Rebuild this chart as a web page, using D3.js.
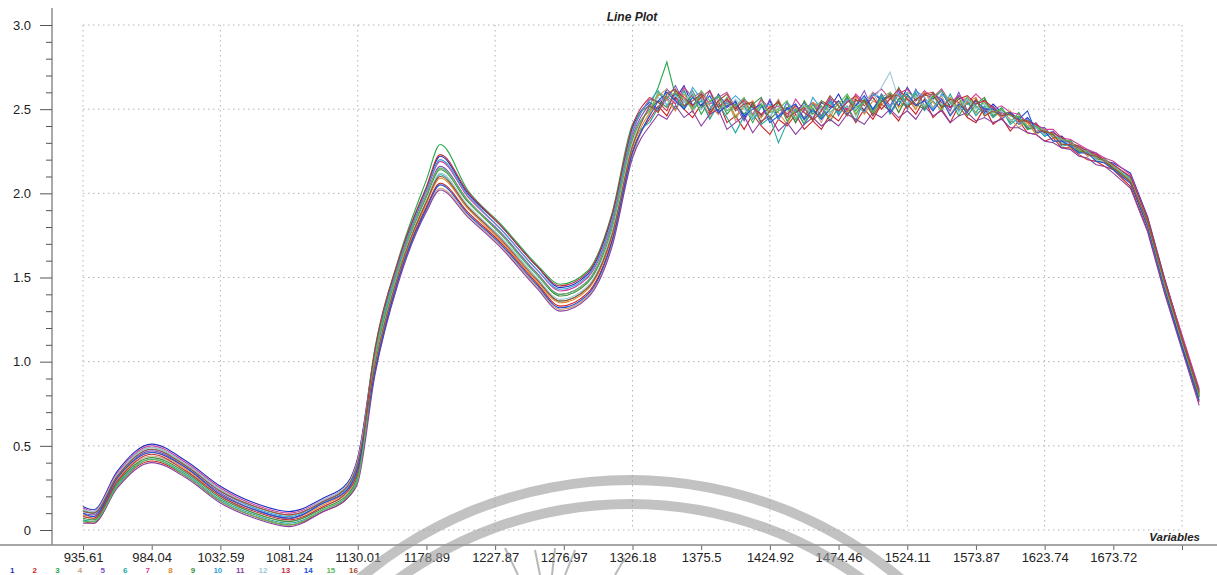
<!DOCTYPE html>
<html>
<head>
<meta charset="utf-8">
<script src="https://cdn.jsdelivr.net/npm/d3@7"></script>
<style>
  html, body { margin: 0; padding: 0; background: #fff; }
  svg { display: block; font-family: 'Liberation Sans', Arial, sans-serif; }
</style>
</head>
<body>
<div id="chart"></div>
<script>
// Rótulos do eixo X (comprimento de onda por variável)
const tickLabels = ['935.61', '984.04', '1032.59', '1081.24', '1130.01', '1178.89', '1227.87', '1276.97',
  '1326.18', '1375.5', '1424.92', '1474.46', '1524.11', '1573.87', '1623.74', '1673.72'];
const yMajor = [0, 0.5, 1.0, 1.5, 2.0, 2.5, 3.0];

// Posição das amostras, em unidades de tick do eixo X
const pos = [0, 0.15, 0.5, 1, 1.5, 2, 2.5, 3, 3.5, 3.85, 4,
  4.25, 4.6, 5, 5.2, 5.6, 6.1, 6.6, 6.95, 7.35, 7.7, 8,
  8.25, 8.375, 8.5, 8.625, 8.75, 8.875, 9, 9.125, 9.25, 9.375,
  9.5, 9.625, 9.75, 9.875, 10, 10.125, 10.25, 10.375, 10.5, 10.625,
  10.75, 10.875, 11, 11.125, 11.25, 11.375, 11.5, 11.625, 11.75, 11.875,
  12, 12.125, 12.25, 12.375, 12.5, 12.625, 12.75, 12.875, 13, 13.125,
  13.25, 13.375, 13.5, 13.625, 13.75, 13.875, 14, 14.125, 14.25, 14.375,
  14.5, 14.625, 14.75, 14.875, 15,
  15.25, 15.5, 15.75, 16, 16.25];

// Espectros: trecho suave, platô ruidoso, queda final
const spectra = [
  [0.14,0.12,0.35,0.51,0.41,0.26,0.16,0.11,0.19,0.28,0.43, 1.06,1.61,2.03,2.22,2.00,1.80,1.57,1.44,1.52,1.86,2.39,
   2.54,2.50,2.62,2.56,2.64,2.52,2.59,2.49,2.59,2.51, 2.55,2.44,2.54,2.46,2.55,2.44,2.51,2.48,2.54,2.44,
   2.54,2.51,2.59,2.49,2.56,2.49,2.60,2.55,2.59,2.52, 2.63,2.55,2.59,2.56,2.61,2.51,2.58,2.53,2.55,2.48,
   2.53,2.48,2.48,2.41,2.45,2.39,2.39,2.33,2.34,2.29, 2.28,2.25,2.24,2.19,2.18, 2.12,1.86,1.49,1.15,0.83],
  [0.05,0.04,0.26,0.41,0.32,0.17,0.08,0.03,0.11,0.19,0.30, 0.95,1.51,1.92,2.06,1.89,1.70,1.47,1.33,1.41,1.72,2.25,
   2.44,2.52,2.46,2.57,2.50,2.45,2.53,2.47,2.55,2.42, 2.46,2.38,2.47,2.40,2.35,2.44,2.40,2.47,2.38,2.43,
   2.38,2.47,2.43,2.51,2.42,2.50,2.44,2.53,2.49,2.43, 2.53,2.47,2.56,2.45,2.50,2.42,2.52,2.45,2.42,2.51,
   2.41,2.45,2.37,2.43,2.36,2.35,2.31,2.33,2.27,2.27, 2.23,2.20,2.19,2.16,2.14, 2.04,1.78,1.41,1.08,0.76],
  [0.12,0.10,0.33,0.49,0.39,0.24,0.14,0.09,0.17,0.26,0.40, 1.08,1.62,2.08,2.29,2.02,1.81,1.58,1.46,1.54,1.88,2.41,
   2.52,2.63,2.78,2.58,2.51,2.59,2.47,2.55,2.49,2.57, 2.45,2.52,2.42,2.52,2.45,2.54,2.43,2.50,2.41,2.53,
   2.45,2.55,2.48,2.58,2.47,2.55,2.47,2.59,2.50,2.63, 2.52,2.59,2.50,2.60,2.52,2.56,2.46,2.54,2.48,2.56,
   2.46,2.51,2.42,2.48,2.39,2.41,2.34,2.36,2.30,2.32, 2.24,2.26,2.20,2.21,2.14, 2.10,1.84,1.47,1.14,0.81],
  [0.08,0.07,0.29,0.44,0.35,0.20,0.10,0.05,0.14,0.22,0.34, 0.93,1.49,1.90,2.03,1.87,1.68,1.45,1.31,1.39,1.69,2.22,
   2.47,2.58,2.62,2.53,2.62,2.48,2.57,2.45,2.54,2.56, 2.43,2.55,2.45,2.55,2.48,2.56,2.45,2.53,2.43,2.51,
   2.42,2.53,2.49,2.57,2.46,2.54,2.60,2.50,2.57,2.48, 2.57,2.50,2.61,2.51,2.58,2.47,2.54,2.57,2.47,2.51,
   2.45,2.49,2.44,2.39,2.44,2.36,2.37,2.31,2.33,2.27, 2.27,2.22,2.23,2.18,2.14, 2.06,1.80,1.43,1.10,0.78],
  [0.10,0.09,0.31,0.47,0.37,0.22,0.12,0.07,0.16,0.24,0.37, 1.02,1.57,1.99,2.16,1.96,1.76,1.53,1.40,1.48,1.81,2.34,
   2.53,2.49,2.56,2.64,2.54,2.60,2.50,2.61,2.47,2.55, 2.52,2.43,2.53,2.45,2.56,2.45,2.54,2.42,2.50,2.54,
   2.46,2.57,2.46,2.55,2.52,2.61,2.49,2.59,2.52,2.61, 2.50,2.62,2.52,2.59,2.56,2.49,2.60,2.49,2.56,2.49,
   2.52,2.44,2.48,2.44,2.39,2.42,2.35,2.37,2.31,2.31, 2.25,2.26,2.21,2.20,2.17, 2.09,1.83,1.46,1.12,0.80],
  [0.06,0.05,0.27,0.42,0.33,0.18,0.09,0.04,0.12,0.20,0.31, 0.98,1.54,1.95,2.11,1.92,1.73,1.50,1.36,1.44,1.76,2.29,
   2.42,2.51,2.57,2.50,2.61,2.50,2.55,2.44,2.53,2.45, 2.36,2.46,2.52,2.41,2.45,2.30,2.42,2.50,2.41,2.49,
   2.44,2.55,2.47,2.52,2.43,2.56,2.50,2.58,2.47,2.55, 2.51,2.60,2.49,2.55,2.49,2.59,2.49,2.55,2.46,2.52,
   2.45,2.50,2.41,2.45,2.38,2.39,2.34,2.36,2.28,2.29, 2.24,2.25,2.19,2.19,2.15, 2.07,1.81,1.44,1.11,0.79],
  [0.13,0.11,0.34,0.50,0.40,0.25,0.15,0.10,0.18,0.27,0.42, 1.04,1.59,2.01,2.19,1.98,1.78,1.55,1.42,1.50,1.83,2.36,
   2.56,2.54,2.58,2.53,2.63,2.57,2.60,2.53,2.57,2.60, 2.51,2.55,2.47,2.56,2.50,2.52,2.45,2.56,2.49,2.54,
   2.49,2.56,2.54,2.49,2.59,2.54,2.58,2.62,2.56,2.59, 2.62,2.55,2.61,2.57,2.62,2.54,2.58,2.54,2.59,2.54,
   2.50,2.52,2.48,2.47,2.42,2.41,2.38,2.38,2.33,2.32, 2.29,2.26,2.24,2.21,2.19, 2.11,1.85,1.48,1.16,0.84],
  [0.09,0.08,0.30,0.46,0.36,0.21,0.12,0.07,0.15,0.24,0.36, 0.97,1.52,1.94,2.09,1.91,1.71,1.48,1.35,1.43,1.74,2.27,
   2.48,2.59,2.56,2.49,2.59,2.51,2.58,2.52,2.47,2.54, 2.46,2.51,2.55,2.45,2.52,2.48,2.41,2.51,2.45,2.54,
   2.51,2.45,2.55,2.48,2.57,2.47,2.55,2.52,2.60,2.51, 2.56,2.50,2.60,2.54,2.50,2.57,2.50,2.54,2.57,2.46,
   2.49,2.45,2.49,2.41,2.42,2.35,2.38,2.33,2.32,2.27, 2.26,2.23,2.22,2.18,2.16, 2.07,1.81,1.44,1.12,0.80],
  [0.07,0.06,0.28,0.43,0.34,0.19,0.10,0.05,0.13,0.21,0.33, 1.01,1.56,1.98,2.14,1.95,1.75,1.52,1.39,1.47,1.79,2.32,
   2.50,2.55,2.51,2.60,2.50,2.61,2.51,2.54,2.58,2.47, 2.53,2.47,2.53,2.57,2.44,2.49,2.51,2.42,2.55,2.47,
   2.52,2.43,2.51,2.57,2.49,2.56,2.48,2.55,2.58,2.48, 2.58,2.53,2.50,2.58,2.51,2.53,2.57,2.46,2.53,2.57,
   2.46,2.50,2.43,2.46,2.38,2.40,2.35,2.35,2.29,2.31, 2.25,2.25,2.20,2.20,2.15, 2.08,1.82,1.45,1.11,0.79],
  [0.11,0.10,0.32,0.48,0.38,0.23,0.13,0.08,0.17,0.25,0.39, 1.05,1.59,2.02,2.20,1.99,1.78,1.55,1.43,1.51,1.84,2.37,
   2.55,2.61,2.52,2.59,2.51,2.63,2.56,2.50,2.58,2.53, 2.58,2.53,2.44,2.51,2.53,2.44,2.54,2.49,2.44,2.57,
   2.50,2.54,2.48,2.56,2.53,2.48,2.59,2.57,2.51,2.59, 2.53,2.61,2.57,2.50,2.59,2.54,2.49,2.56,2.52,2.47,
   2.51,2.48,2.47,2.41,2.44,2.39,2.34,2.36,2.32,2.28, 2.28,2.24,2.22,2.20,2.16, 2.09,1.84,1.46,1.13,0.82],
  [0.04,0.04,0.25,0.40,0.31,0.16,0.07,0.02,0.11,0.19,0.28, 0.92,1.48,1.89,2.02,1.86,1.67,1.44,1.30,1.38,1.68,2.21,
   2.40,2.47,2.44,2.52,2.45,2.49,2.40,2.47,2.50,2.38, 2.42,2.46,2.36,2.43,2.46,2.37,2.42,2.35,2.41,2.45,
   2.40,2.44,2.40,2.47,2.44,2.41,2.48,2.45,2.50,2.45, 2.49,2.44,2.52,2.46,2.49,2.42,2.46,2.48,2.43,2.45,
   2.42,2.44,2.39,2.39,2.36,2.35,2.31,2.30,2.27,2.26, 2.22,2.21,2.17,2.16,2.12, 2.03,1.77,1.40,1.07,0.74],
  [0.12,0.11,0.33,0.49,0.39,0.24,0.14,0.09,0.18,0.27,0.41, 0.99,1.54,1.96,2.12,1.93,1.73,1.50,1.37,1.45,1.77,2.30,
   2.51,2.57,2.53,2.58,2.54,2.60,2.50,2.54,2.56,2.49, 2.56,2.50,2.45,2.53,2.46,2.51,2.49,2.45,2.53,2.45,
   2.51,2.47,2.54,2.51,2.50,2.57,2.55,2.63,2.72,2.56, 2.53,2.58,2.52,2.59,2.53,2.55,2.48,2.56,2.50,2.53,
   2.47,2.49,2.43,2.45,2.40,2.39,2.35,2.36,2.30,2.30, 2.26,2.25,2.20,2.19,2.17, 2.08,1.83,1.46,1.12,0.81],
  [0.08,0.07,0.29,0.45,0.35,0.20,0.11,0.06,0.14,0.23,0.35, 1.07,1.61,2.04,2.23,2.01,1.80,1.57,1.45,1.53,1.87,2.40,
   2.57,2.54,2.49,2.61,2.57,2.52,2.57,2.61,2.51,2.56, 2.50,2.56,2.51,2.47,2.51,2.54,2.47,2.52,2.48,2.44,
   2.55,2.52,2.49,2.54,2.58,2.52,2.57,2.50,2.56,2.62, 2.56,2.52,2.59,2.60,2.54,2.51,2.56,2.58,2.53,2.55,
   2.51,2.47,2.48,2.44,2.43,2.41,2.36,2.36,2.33,2.30, 2.28,2.25,2.23,2.20,2.17, 2.10,1.85,1.48,1.14,0.82],
  [0.10,0.08,0.31,0.46,0.37,0.21,0.12,0.07,0.16,0.24,0.37, 0.94,1.50,1.91,2.05,1.88,1.69,1.46,1.32,1.40,1.71,2.24,
   2.46,2.55,2.60,2.55,2.50,2.57,2.52,2.58,2.48,2.52, 2.54,2.46,2.50,2.53,2.42,2.46,2.50,2.53,2.44,2.50,
   2.44,2.50,2.55,2.47,2.52,2.58,2.50,2.57,2.48,2.56, 2.59,2.52,2.55,2.49,2.56,2.46,2.53,2.48,2.55,2.50,
   2.50,2.46,2.48,2.44,2.49,2.36,2.37,2.31,2.31,2.28, 2.24,2.24,2.19,2.18,2.14, 2.06,1.80,1.43,1.09,0.77],
  [0.05,0.05,0.26,0.42,0.32,0.17,0.08,0.03,0.12,0.20,0.30, 1.02,1.56,1.99,2.15,1.96,1.75,1.52,1.40,1.48,1.80,2.33,
   2.49,2.60,2.57,2.60,2.56,2.50,2.61,2.55,2.58,2.49, 2.52,2.57,2.46,2.53,2.48,2.50,2.55,2.44,2.52,2.50,
   2.55,2.48,2.53,2.59,2.51,2.54,2.48,2.57,2.60,2.55, 2.60,2.57,2.51,2.57,2.61,2.54,2.51,2.57,2.51,2.54,
   2.48,2.50,2.46,2.45,2.40,2.40,2.37,2.34,2.32,2.31, 2.26,2.25,2.21,2.20,2.16, 2.08,1.82,1.45,1.12,0.80],
  [0.11,0.10,0.32,0.48,0.38,0.23,0.14,0.09,0.17,0.26,0.40, 0.98,1.53,1.95,2.10,1.92,1.72,1.49,1.36,1.44,1.75,2.28,
   2.52,2.48,2.59,2.62,2.52,2.55,2.59,2.48,2.55,2.59, 2.49,2.53,2.54,2.42,2.49,2.55,2.45,2.48,2.51,2.43,
   2.49,2.58,2.52,2.46,2.55,2.55,2.46,2.54,2.58,2.58, 2.51,2.56,2.58,2.59,2.51,2.56,2.54,2.49,2.56,2.46,
   2.49,2.46,2.47,2.43,2.43,2.37,2.37,2.35,2.29,2.29, 2.27,2.23,2.22,2.19,2.15, 2.07,1.83,1.47,1.13,0.81]
];
const seriesNames = ['1', '2', '3', '4', '5', '6', '7', '8', '9', '10', '11', '12', '13', '14', '15', '16'];
const colors = ['#1f2fbf', '#d02020', '#2aa84a', '#c9a27a', '#7c52c8', '#20a8a0', '#d040a0', '#e08a30',
  '#3d8f3d', '#3aa0d8', '#8a3fa0', '#9fc8d8', '#c03040', '#2050d8', '#60b860', '#a05030'];

const width = 1217;
const height = 575;

const svg = d3.select('#chart')
  .append('svg')
  .attr('width', width)
  .attr('height', height);

const x = d3.scaleLinear().domain([0, 16]).range([83, 1182]);
const y = d3.scaleLinear().domain([0, 3]).range([530, 25]);
const axisY = 545;

// Grade pontilhada
const grid = svg.append('g').attr('stroke', '#b4b4b4').attr('stroke-dasharray', '1.5,3.5');
grid.selectAll('line.h')
  .data(yMajor)
  .enter().append('line')
  .attr('x1', x(0)).attr('x2', x(16))
  .attr('y1', d => y(d)).attr('y2', d => y(d));
grid.selectAll('line.v')
  .data(d3.range(0, 17, 2))
  .enter().append('line')
  .attr('x1', d => x(d)).attr('x2', d => x(d))
  .attr('y1', y(3)).attr('y2', y(0));

// Linhas dos espectros: trecho suave com curva, platô com segmentos retos
const smooth = d3.line().x(d => x(d[0])).y(d => y(d[1])).curve(d3.curveMonotoneX);
const jagged = d3.line().x(d => x(d[0])).y(d => y(d[1]));
const lines = svg.append('g').attr('fill', 'none').attr('stroke-width', 1.1);
spectra.forEach((vals, s) => {
  const pts = vals.map((v, i) => [pos[i], v]);
  lines.append('path').attr('d', smooth(pts.slice(0, 23))).attr('stroke', colors[s]);
  lines.append('path').attr('d', jagged(pts.slice(22))).attr('stroke', colors[s]);
});

// Eixo Y (maiores e menores em grupos separados)
const yMinor = svg.append('g').attr('transform', 'translate(52,0)');
yMinor.call(d3.axisLeft(y)
  .tickValues(d3.range(1, 30).filter(d => d % 5 !== 0).map(d => d / 10))
  .tickSize(6).tickFormat(''));
const yAxis = svg.append('g').attr('transform', 'translate(52,0)');
yAxis.call(d3.axisLeft(y).tickValues(yMajor).tickSize(12).tickPadding(9)
  .tickFormat(d => d === 0 ? '0' : d.toFixed(1)));
svg.selectAll('.domain').remove();
yMinor.selectAll('line').attr('stroke', '#555');
yAxis.selectAll('line').attr('stroke', '#555');
yAxis.selectAll('text').attr('font-size', 13).attr('fill', '#222');
svg.append('line').attr('x1', 52).attr('x2', 52).attr('y1', 8).attr('y2', axisY)
  .attr('stroke', '#555');

// Eixo X
const xAxis = svg.append('g').attr('transform', `translate(0,${axisY})`);
xAxis.call(d3.axisBottom(x).tickValues(d3.range(0, 17)).tickSize(5).tickPadding(3)
  .tickFormat(i => tickLabels[i] || ''));
xAxis.selectAll('.domain').remove();
xAxis.selectAll('line').attr('stroke', '#666');
xAxis.selectAll('text').attr('font-size', 13).attr('fill', '#222');
svg.append('line').attr('x1', 0).attr('x2', width).attr('y1', axisY).attr('y2', axisY)
  .attr('stroke', '#888').attr('stroke-width', 1.5);

// Títulos
svg.append('text').attr('x', 632).attr('y', 21).attr('text-anchor', 'middle')
  .attr('font-size', 12).attr('font-weight', 'bold').attr('font-style', 'italic')
  .attr('fill', '#222').text('Line Plot');
svg.append('text').attr('x', 1200).attr('y', 541).attr('text-anchor', 'end')
  .attr('font-size', 11.5).attr('font-weight', 'bold').attr('font-style', 'italic')
  .attr('fill', '#222').text('Variables');

// Legenda na borda inferior
svg.append('g').selectAll('text')
  .data(seriesNames)
  .enter().append('text')
  .attr('x', (d, i) => 10 + i * 22.6)
  .attr('y', 573.3)
  .attr('font-size', 8).attr('font-weight', 'bold')
  .attr('fill', (d, i) => colors[i])
  .text(d => d);

// Marca d'água (arcos cinza)
const mark = svg.append('g').attr('transform', 'translate(630,900)').attr('opacity', 0.6);
[[420, 0.76], [396, 0.7]].forEach(([r, a]) => {
  mark.append('path')
    .attr('d', d3.arc().innerRadius(r - 5).outerRadius(r + 5).startAngle(-a).endAngle(a)())
    .attr('fill', '#9a9a9a');
});
const rays = [[-125, -352, -112, -325], [-95, -350, -90, -325], [-75, -352, -78, -325], [-55, -350, -65, -325], [-5, -342, -15, -325]];
mark.selectAll('line.ray')
  .data(rays)
  .enter().append('line')
  .attr('x1', d => d[0]).attr('y1', d => d[1]).attr('x2', d => d[2]).attr('y2', d => d[3])
  .attr('stroke', '#8a8a8a').attr('stroke-width', 2);
</script>
</body>
</html>
